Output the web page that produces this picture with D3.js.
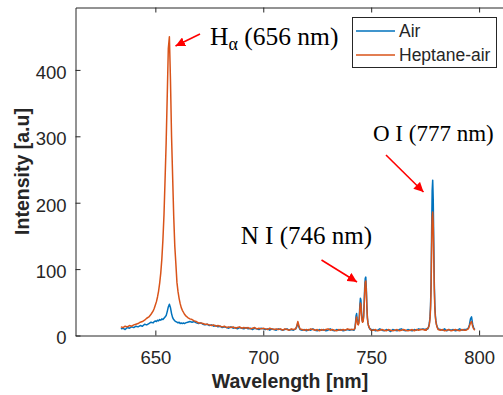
<!DOCTYPE html>
<html>
<head>
<meta charset="utf-8">
<script src="https://cdn.jsdelivr.net/npm/d3@7"></script>
<style>
  html, body { margin: 0; padding: 0; background: #fff; }
  svg { display: block; }
  text { font-family: "Liberation Sans", Arial, sans-serif; fill: #262626; }
  .serif { font-family: "Liberation Serif", "Times New Roman", serif; fill: #000; }
</style>
</head>
<body>
<svg id="chart" width="503" height="395"></svg>
<script>
// Emission spectra: wavelength grid (nm) and intensities (a.u.) for both flames
const wavelength = [
  634,635,636,637,638,639,640,641,642,643,644,645,646,647,648,649,
  649.5,650,650.5,651,651.5,652,652.5,653,653.5,654,654.5,655,655.5,656,656.5,657,657.5,658,658.5,659,659.5,660,660.5,661,661.5,662,662.5,663,663.5,664,
  665,666,667,668,669,670,671,672,673,674,675,676,677,678,679,680,681,682,683,684,685,686,687,688,689,690,
  691,692,693,694,695,696,697,698,699,700,701,702,703,704,705,706,707,708,709,710,711,712,713,714,715,
  715.5,716,716.5,
  717,718,719,720,721,722,723,724,725,726,727,728,729,730,731,732,733,734,735,736,737,738,739,740,741,
  742,742.25,742.5,742.75,743,743.25,743.5,743.75,744,744.25,744.5,744.75,745,745.25,745.5,745.75,746,746.25,746.5,746.75,747,747.25,747.5,747.75,748,748.25,748.5,748.75,749,749.25,749.5,749.75,750,
  751,752,753,754,755,756,757,758,759,760,761,762,763,764,765,766,767,768,769,770,771,772,773,774,
  775,775.25,775.5,775.75,776,776.25,776.5,776.75,777,777.25,777.5,777.75,778,778.25,778.5,778.75,779,779.25,779.5,779.75,780,780.25,780.5,780.75,781,
  782,783,784,785,786,787,788,789,790,791,792,793,794,795,
  795.5,796,796.5,797,797.5,798
];

const air = [
  10,11,9,12,11,13,12,14,13,15,14,17,16,18,20,19,
  21,22,21,23,22,24,23,25,24,26,28,30,36,43,47,42,33,27,24,22,21,20,19,20,18,19,18,19,18,19,
  20,21,20,21,19,18,19,17,16,17,15,16,14,15,13,14,12,13,12,11,13,11,12,10,12,11,
  10,12,10,11,9,11,10,9,11,10,9,10,8,10,9,8,10,9,8,9,10,8,9,8,10,
  13,19,13,
  9,8,9,7,9,8,10,8,7,9,8,9,7,8,10,8,7,9,8,9,7,8,9,8,9,
  8,9,12,20,30,33,25,19,17,20,29,46,56,53,37,25,21,22,30,50,73,86,88,71,45,27,19,15,12,11,9,10,8,
  9,7,8,10,8,7,9,8,6,9,8,7,9,10,8,7,9,8,7,9,8,10,9,10,
  9,8,10,9,11,10,12,15,20,28,45,80,155,218,234,205,140,78,45,30,22,17,14,12,10,
  9,8,10,7,9,8,9,7,8,10,8,9,9,11,
  16,25,28,17,11,9
];

const heptaneAir = [
  13,12,14,13,15,14,16,17,18,20,21,23,26,28,32,37,
  41,46,51,58,67,79,94,115,144,182,235,290,360,432,450,385,300,240,180,135,108,80,66,56,48,42,38,35,32,30,
  27,25,24,22,21,19,19,18,17,17,16,15,16,14,15,14,13,14,12,13,12,13,11,12,13,11,
  12,11,12,10,11,12,10,11,10,11,10,9,11,10,9,10,9,10,8,10,9,8,10,9,10,
  14,21,15,
  10,9,8,9,8,10,9,8,9,7,9,8,9,10,8,9,8,7,9,8,9,8,10,9,9,
  9,10,11,17,25,28,22,17,16,18,25,40,49,46,32,23,20,21,28,45,66,80,82,66,42,26,19,15,13,11,10,9,8,
  8,9,7,8,9,8,7,9,8,7,8,9,7,8,9,8,7,8,9,7,9,8,9,9,
  8,9,8,10,10,11,12,14,18,25,40,70,130,178,186,168,118,68,40,27,20,16,13,11,9,
  8,9,7,8,9,7,8,9,8,7,9,8,8,10,
  14,19,21,14,10,8
];

const seriesNames = ["Air", "Heptane-air"];
const seriesColors = ["#0072BD", "#D95319"];
const xTicks = [650, 700, 750, 800];
const yTicks = [0, 100, 200, 300, 400];

// Peak annotation texts
const peakLabels = [
  { main: "H", sub: "α", rest: " (656 nm)" },
  { main: "N I (746 nm)", sub: "", rest: "" },
  { main: "O I (777 nm)", sub: "", rest: "" }
];

const svg = d3.select("#chart");
const plot = { left: 75.5, right: 505, top: 7.5, bottom: 335.5 };

const x = d3.scaleLinear().domain([613, 812]).range([plot.left, plot.right]);
const y = d3.scaleLinear().domain([0, 494]).range([plot.bottom, plot.top]);

svg.append("defs").append("clipPath").attr("id", "clip")
  .append("rect")
  .attr("x", plot.left).attr("y", plot.top)
  .attr("width", plot.right - plot.left).attr("height", plot.bottom - plot.top);

// Spectra
const line = d3.line().x(d => x(d[0])).y(d => y(d[1]));
const series = [air, heptaneAir];
series.forEach((vals, i) => {
  svg.append("path")
    .datum(wavelength.map((w, k) => [w, vals[k]]))
    .attr("clip-path", "url(#clip)")
    .attr("fill", "none")
    .attr("stroke", seriesColors[i])
    .attr("stroke-width", 1.5)
    .attr("stroke-linejoin", "round")
    .attr("d", line);
});

// Axes (ticks pointing inward, box on)
const axisColor = "#262626";
const tickLen = 5;
const fontTick = 18.5;

const gx = svg.append("g").attr("transform", `translate(0,${plot.bottom})`)
  .call(d3.axisBottom(x).tickValues(xTicks).tickSizeInner(-tickLen).tickSizeOuter(0).tickPadding(15));
const gxTop = svg.append("g").attr("transform", `translate(0,${plot.top})`)
  .call(d3.axisTop(x).tickValues(xTicks).tickSizeInner(-tickLen).tickSizeOuter(0).tickFormat(""));
const gy = svg.append("g").attr("transform", `translate(${plot.left},0)`)
  .call(d3.axisLeft(y).tickValues(yTicks).tickSizeInner(-tickLen).tickSizeOuter(0).tickPadding(9));

[gx, gxTop, gy].forEach(g => {
  g.select(".domain").attr("stroke", axisColor).attr("stroke-width", 1);
  g.selectAll(".tick line").attr("stroke", axisColor).attr("stroke-width", 1);
  g.selectAll(".tick text")
    .attr("fill", axisColor)
    .style("font-family", '"Liberation Sans", Arial, sans-serif')
    .style("font-size", fontTick + "px");
});
gy.selectAll(".tick text").attr("dy", "0.45em");

// Axis titles
svg.append("text")
  .attr("x", 290).attr("y", 388)
  .attr("text-anchor", "middle")
  .style("font-size", "19.5px").style("font-weight", "bold")
  .text("Wavelength [nm]");

svg.append("text")
  .attr("transform", `translate(29,${(plot.top + plot.bottom) / 2}) rotate(-90)`)
  .attr("text-anchor", "middle")
  .style("font-size", "19.5px").style("font-weight", "bold")
  .text("Intensity [a.u]");

// Legend
const legend = svg.append("g");
legend.append("rect")
  .attr("x", 352.5).attr("y", 17.5).attr("width", 144).attr("height", 50)
  .attr("fill", "#fff").attr("stroke", axisColor).attr("stroke-width", 1);
seriesNames.forEach((name, i) => {
  const ly = 31 + i * 24;
  legend.append("line")
    .attr("x1", 356).attr("x2", 395).attr("y1", ly).attr("y2", ly)
    .attr("stroke", seriesColors[i]).attr("stroke-width", 1.3);
  legend.append("text")
    .attr("x", 399).attr("y", ly).attr("dy", "0.35em")
    .style("font-size", "17.5px")
    .text(name);
});

// Peak annotations with red arrows
const defs = svg.select("defs");
defs.append("marker")
  .attr("id", "arrowhead")
  .attr("viewBox", "0 0 10 10")
  .attr("refX", 10).attr("refY", 5)
  .attr("markerWidth", 6).attr("markerHeight", 6)
  .attr("markerUnits", "strokeWidth")
  .attr("orient", "auto")
  .append("path").attr("d", "M0,0 L10,5 L0,10 z").attr("fill", "#ff0000");

const arrows = [
  { x1: 200, y1: 34, x2: 175.5, y2: 46 },
  { x1: 321.5, y1: 260, x2: 357, y2: 282 },
  { x1: 386, y1: 155, x2: 423.5, y2: 192 }
];
arrows.forEach(a => {
  svg.append("line")
    .attr("x1", a.x1).attr("y1", a.y1).attr("x2", a.x2).attr("y2", a.y2)
    .attr("stroke", "#ff0000").attr("stroke-width", 1.6)
    .attr("marker-end", "url(#arrowhead)");
});

const ha = svg.append("text").attr("class", "serif")
  .attr("x", 210).attr("y", 45).style("font-size", "25.5px");
ha.append("tspan").text(peakLabels[0].main);
ha.append("tspan").attr("dy", 5).style("font-size", "18px").text(peakLabels[0].sub);
ha.append("tspan").attr("dy", -5).text(peakLabels[0].rest);

svg.append("text").attr("class", "serif")
  .attr("x", 372).attr("y", 243.5).attr("text-anchor", "end")
  .style("font-size", "25px")
  .text(peakLabels[1].main);

svg.append("text").attr("class", "serif")
  .attr("x", 373).attr("y", 141).style("font-size", "23px")
  .text(peakLabels[2].main);
</script>
</body>
</html>
